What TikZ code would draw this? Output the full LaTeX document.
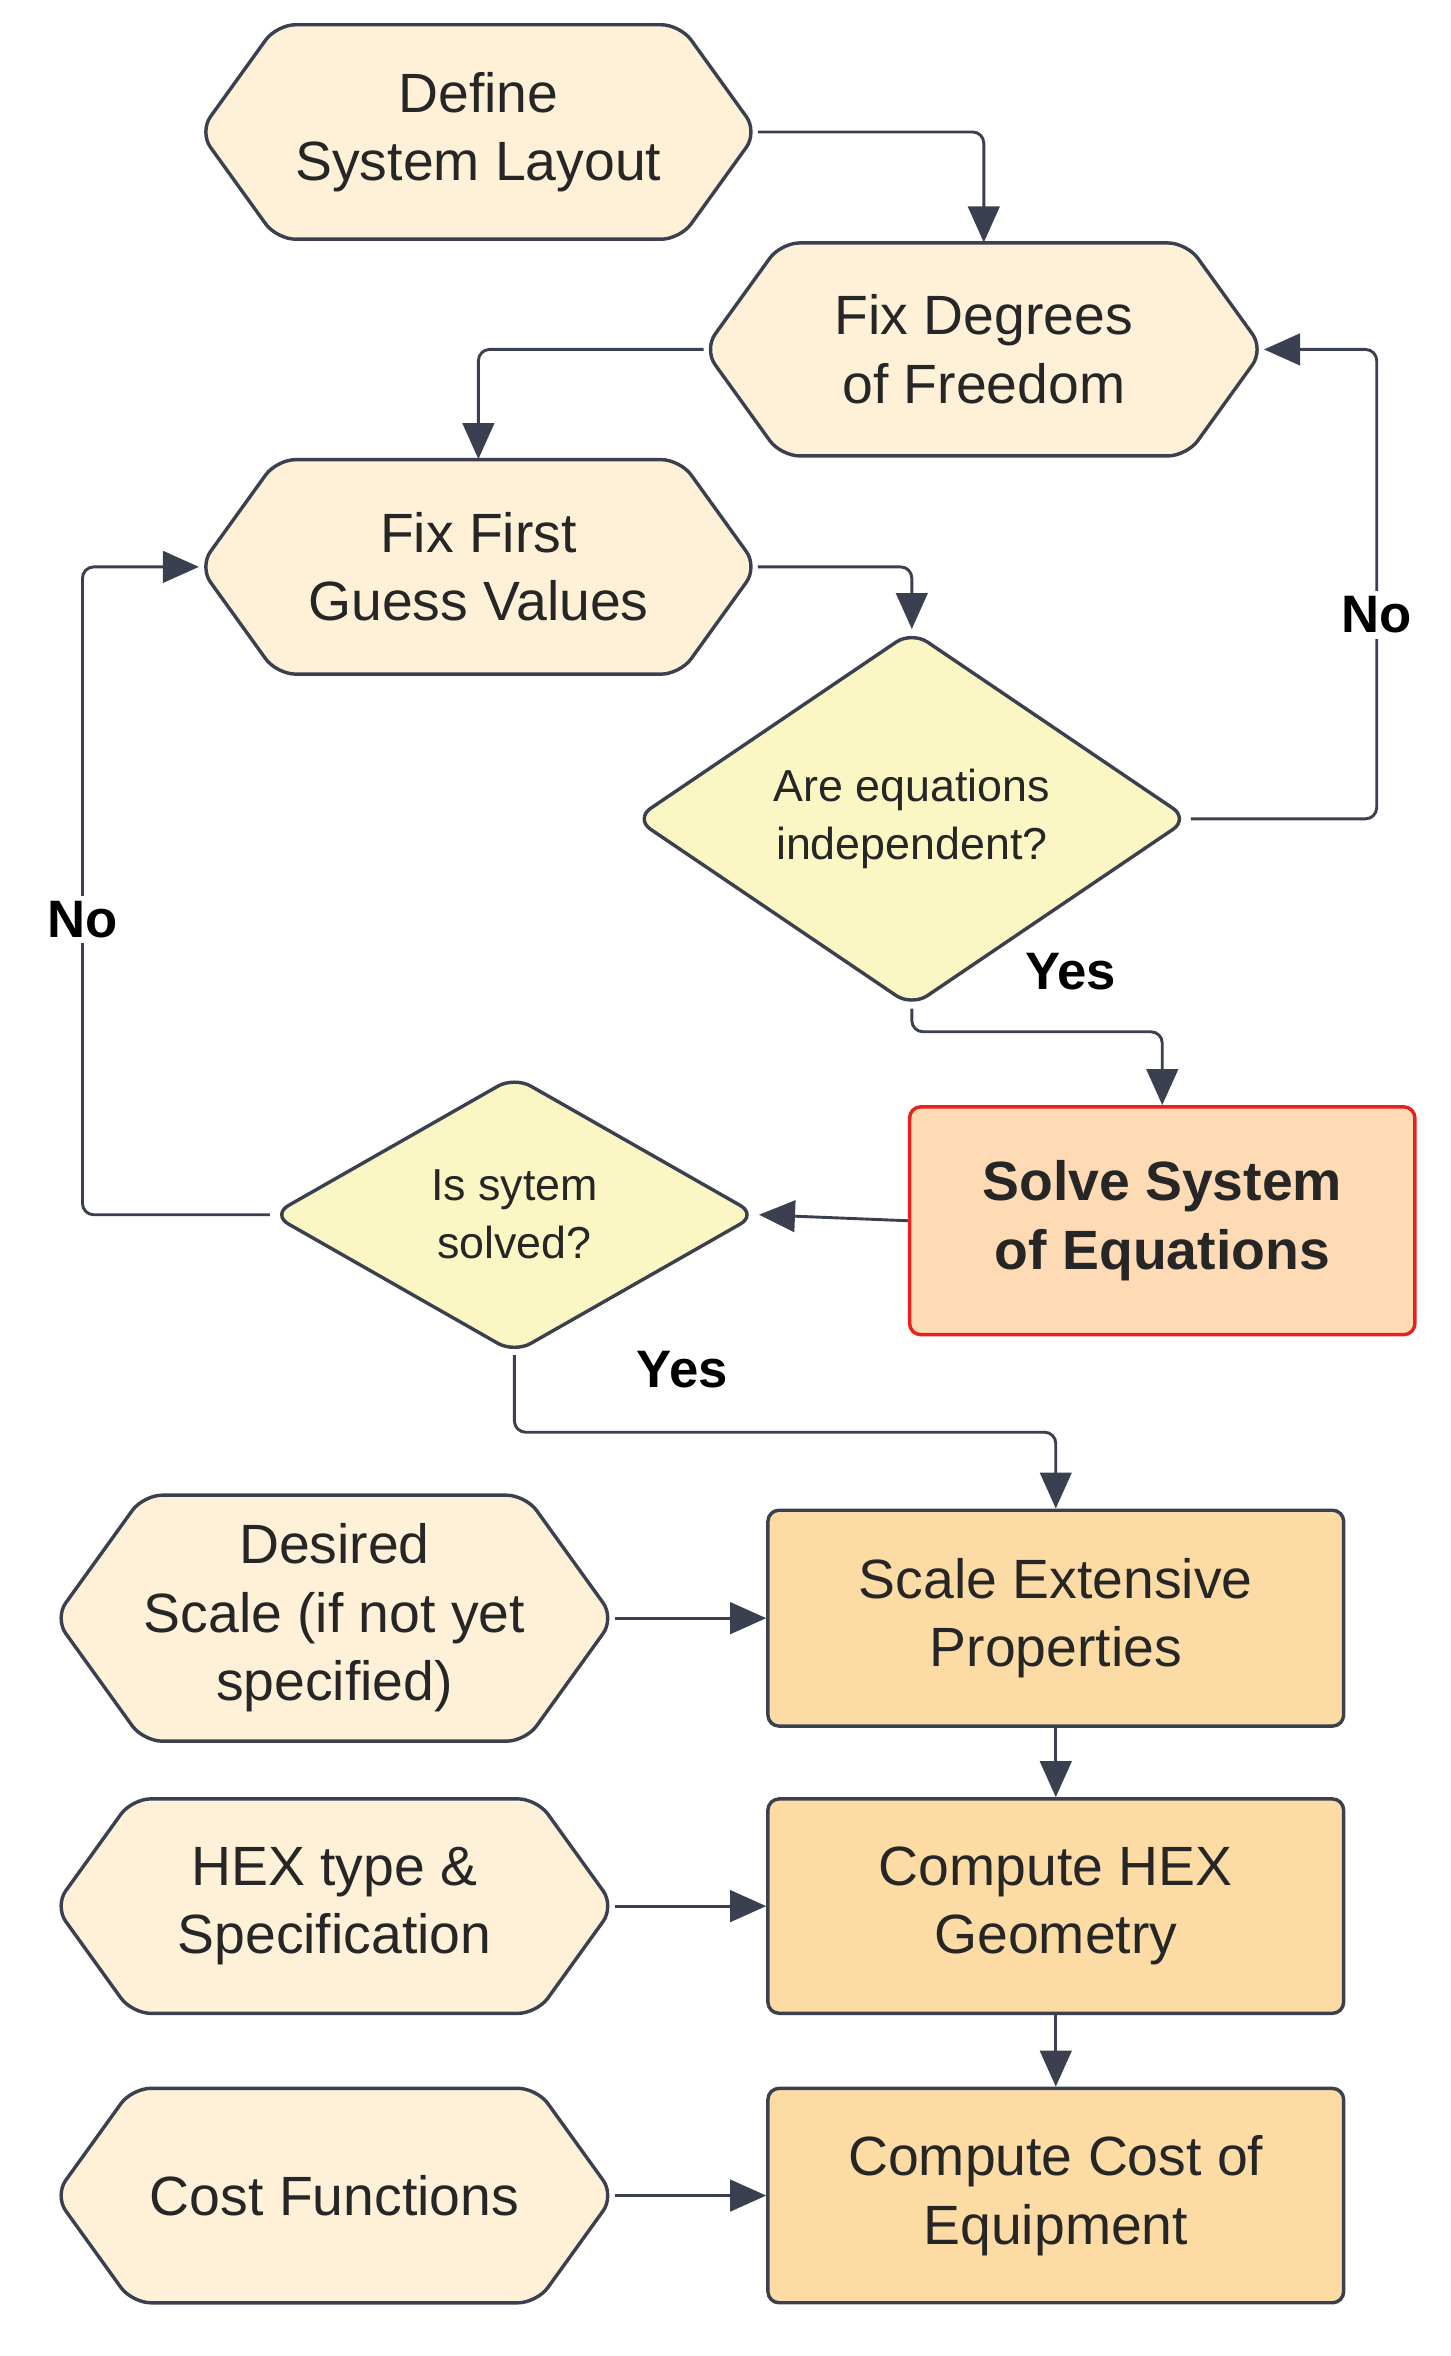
\documentclass[tikz,border=0pt]{standalone}
\usepackage{fontspec}
\setmainfont{Liberation Sans}
\usetikzlibrary{shapes.geometric,arrows.meta}
\definecolor{stk}{HTML}{3B4050}
\definecolor{hexf}{HTML}{FEF1D8}
\definecolor{diaf}{HTML}{FAF7C5}
\definecolor{solf}{HTML}{FFDBB5}
\definecolor{solb}{HTML}{E8211F}
\definecolor{recf}{HTML}{FCDCA4}
\tikzset{
  hexshape/.style={draw=stk,fill=hexf,line width=1.3pt,rounded corners=0.25cm},
  hextext/.style={draw=none,align=center,inner sep=0pt,font=\fontsize{21}{26}\selectfont,text=black!85},
  dia/.style={diamond,draw=stk,fill=diaf,line width=1.3pt,rounded corners=0.25cm,inner sep=0pt,align=center,font=\fontsize{17}{22}\selectfont,text=black!85},
  box/.style={rectangle,draw=stk,fill=recf,line width=1.3pt,rounded corners=0.15cm,align=center,font=\fontsize{21}{26}\selectfont,text=black!85},
  conn/.style={draw=stk,line width=1.1pt,rounded corners=0.15cm,-{Triangle[length=0.48cm,width=0.42cm]}},
  lbl/.style={fill=white,inner sep=2pt,font=\bfseries\fontsize{20}{24}\selectfont}
}
\newcommand\hexnode[6]{%
  \pgfmathsetmacro\hxl{#2-#4/2}\pgfmathsetmacro\hxr{#2+#4/2}%
  \pgfmathsetmacro\hxt{#3-#5/2}\pgfmathsetmacro\hxb{#3+#5/2}%
  \pgfmathsetmacro\hxil{\hxl+0.36*#5}\pgfmathsetmacro\hxir{\hxr-0.36*#5}%
  \draw[hexshape] (\hxl,#3) -- (\hxil,\hxt) -- (\hxir,\hxt) -- (\hxr,#3) -- (\hxir,\hxb) -- (\hxil,\hxb) -- cycle;
  \node[hextext,minimum width={#4*0.02cm},minimum height={#5*0.02cm}] (#1) at (#2,#3) {#6};}
\begin{document}
\begin{tikzpicture}[x=0.02cm,y=-0.02cm]
\useasboundingbox (0,0) rectangle (967,1571);
\hexnode{define}{319}{88}{372}{143}{Define\\System Layout}
\hexnode{dof}{656}{233}{373}{142}{Fix Degrees\\of Freedom}
\hexnode{guess}{319}{378}{372}{143}{Fix First\\Guess Values}
\node[dia,minimum width=7.4cm,minimum height=3.7cm] (indep) at (608,546) {Are equations\\independent?};
\node[box,fill=solf,draw=solb,minimum width=6.74cm,minimum height=3.04cm,font=\bfseries\fontsize{21}{26}\selectfont] (solve) at (775,814) {Solve System\\of Equations};
\node[dia,minimum width=6.48cm,minimum height=3.7cm] (solved) at (343,810) {Is sytem\\solved?};
\node[box,minimum width=7.68cm,minimum height=2.88cm] (scale) at (704,1079) {Scale Extensive\\Properties};
\node[box,minimum width=7.68cm,minimum height=2.86cm] (geom) at (704,1271) {Compute HEX\\Geometry};
\node[box,minimum width=7.68cm,minimum height=2.86cm] (cost) at (704,1464) {Compute Cost of\\Equipment};
\hexnode{desired}{223}{1079}{373}{164}{Desired\\Scale (if not yet\\specified)}
\hexnode{hextype}{223}{1271}{373}{143}{HEX type \&\\Specification}
\hexnode{costf}{223}{1464}{373}{143}{Cost Functions}
\coordinate (c1) at (656,88);
\draw[conn] (define.east) -- (c1) -- (dof.north);
\coordinate (c2) at (319,233);
\draw[conn] (dof.west) -- (c2) -- (guess.north);
\coordinate (c3) at (608,378);
\draw[conn] (guess.east) -- (c3) -- (indep.north);
\coordinate (c4) at (918,546); \coordinate (c5) at (918,233);
\draw[conn] (indep.east) -- (c4) -- (c5) -- (dof.east);
\node[lbl] (no1) at (918,410) {No};
\coordinate (c6) at (608,688); \coordinate (c7) at (775,688);
\draw[conn] (indep.south) -- (c6) -- (c7) -- (solve.north);
\node[lbl] (yes1) at (714,648) {Yes};
\draw[conn] (solve.west) -- (solved.east);
\coordinate (c8) at (55,810); \coordinate (c9) at (55,378);
\draw[conn] (solved.west) -- (c8) -- (c9) -- (guess.west);
\node[lbl] (no2) at (55,613) {No};
\coordinate (c10) at (343,955); \coordinate (c11) at (704,955);
\draw[conn] (solved.south) -- (c10) -- (c11) -- (scale.north);
\node[lbl] (yes2) at (455,913) {Yes};
\draw[conn] (scale.south) -- (geom.north);
\draw[conn] (geom.south) -- (cost.north);
\draw[conn] (desired.east) -- (scale.west);
\draw[conn] (hextype.east) -- (geom.west);
\draw[conn] (costf.east) -- (cost.west);
\end{tikzpicture}
\end{document}
